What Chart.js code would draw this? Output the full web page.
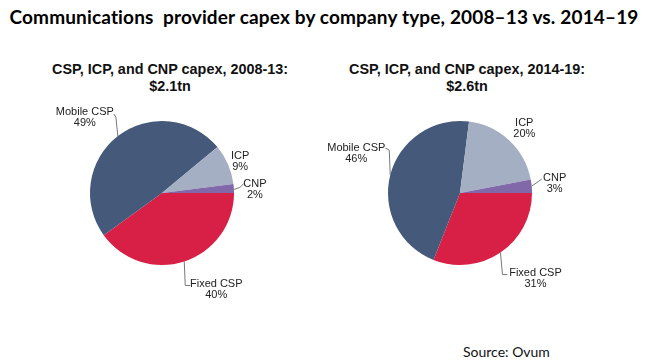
<!DOCTYPE html>
<html>
<head>
<meta charset="utf-8">
<script src="https://cdn.jsdelivr.net/npm/chart.js@4.4.1/dist/chart.umd.min.js"></script>
<style>
  html, body { margin: 0; padding: 0; background: #fff; }
  #wrap { position: relative; width: 648px; height: 360px; overflow: hidden; }
  .title {
    position: absolute; left: 0; top: 5px; width: 648px; text-align: center;
    font: bold 19px Lato, "Open Sans", sans-serif; color: #000; white-space: pre;
    letter-spacing: 0.15px;
  }
  .sub {
    position: absolute; top: 61px; width: 324px; text-align: center;
    font: bold 14.4px "Liberation Sans", Arial, sans-serif; color: #111; line-height: 17px;
  }
  .source {
    position: absolute; left: 463px; top: 343px;
    font: 14px Lato, "Open Sans", sans-serif; color: #111;
  }
  canvas { position: absolute; top: 90px; }
</style>
</head>
<body>
<div id="wrap">
  <div class="title" id="title">Communications  provider capex by company type, 2008–13 vs. 2014–19</div>
  <div class="sub" style="left:8px">CSP, ICP, and CNP capex, 2008-13:<br>$2.1tn</div>
  <div class="sub" style="left:305px">CSP, ICP, and CNP capex, 2014-19:<br>$2.6tn</div>
  <canvas id="pieA" width="324" height="220" style="left:0px"></canvas>
  <canvas id="pieB" width="324" height="220" style="left:324px"></canvas>
  <div class="source">Source: Ovum</div>
</div>
<script>
// data (percent share of capex)
const categories = ['Fixed CSP', 'Mobile CSP', 'ICP', 'CNP']
const share0813 = [40, 49, 9, 2]
const share1419 = [31, 46, 20, 3]
const colors = ['#d81f45', '#45597a', '#a4afc3', '#8068a9']

// where each label sits, relative to the slice's outer edge point
// text: centre of first line, line: leader polyline
const labelsA = [
  { text: [32, 22], line: [[0, 0], [1, 24], [6, 24]] },
  { text: [-33, -24], line: [[0, 0], [-2, -19], [-4, -22]] },
  { text: [12, -8], line: null },
  { text: [21, -5], line: [[0, 1], [6, -1], [10, -5]] }
]
const labelsB = [
  { text: [35, 20], line: [[0, 0], [2, 22], [7, 22]] },
  { text: [-34, -27], line: [[0, 0], [-1, -25], [-5, -27]] },
  { text: [15, -18], line: null },
  { text: [23, -8], line: [[0, 0], [7, -5], [10, -7]] }
]

const sliceLabels = {
  id: 'sliceLabels',
  afterDraw(chart, args, opts) {
    const ctx = chart.ctx
    const meta = chart.getDatasetMeta(0)
    const values = chart.data.datasets[0].data
    ctx.save()
    ctx.font = '11px "Liberation Sans", Arial, sans-serif'
    ctx.textAlign = 'center'
    ctx.textBaseline = 'middle'
    meta.data.forEach((arc, i) => {
      const mid = (arc.startAngle + arc.endAngle) / 2
      const ex = arc.x + Math.cos(mid) * arc.outerRadius
      const ey = arc.y + Math.sin(mid) * arc.outerRadius
      const lay = opts.layout[i]
      if (lay.line) {
        ctx.strokeStyle = '#777'
        ctx.lineWidth = 1
        ctx.beginPath()
        lay.line.forEach((p, j) => {
          if (j === 0) ctx.moveTo(ex + p[0], ey + p[1])
          else ctx.lineTo(ex + p[0], ey + p[1])
        })
        ctx.stroke()
      }
      ctx.fillStyle = '#222'
      const tx = ex + lay.text[0]
      const ty = ey + lay.text[1]
      ctx.fillText(chart.data.labels[i], tx, ty)
      ctx.fillText(values[i] + '%', tx, ty + 11)
    })
    ctx.restore()
  }
}

function makePie(id, values, layout, padding) {
  return new Chart(document.getElementById(id), {
    type: 'pie',
    data: {
      labels: categories,
      datasets: [{
        data: values,
        backgroundColor: colors,
        borderWidth: 0
      }]
    },
    options: {
      responsive: false,
      animation: false,
      rotation: 90, // first slice starts at 3 o'clock
      layout: { padding: padding },
      plugins: {
        legend: { display: false },
        tooltip: { enabled: false },
        sliceLabels: { layout: layout }
      }
    },
    plugins: [sliceLabels]
  })
}

makePie('pieA', share0813, labelsA, { left: 90, right: 90, top: 31, bottom: 45 })
makePie('pieB', share1419, labelsB, { left: 64, right: 116, top: 31, bottom: 45 })
</script>
</body>
</html>
